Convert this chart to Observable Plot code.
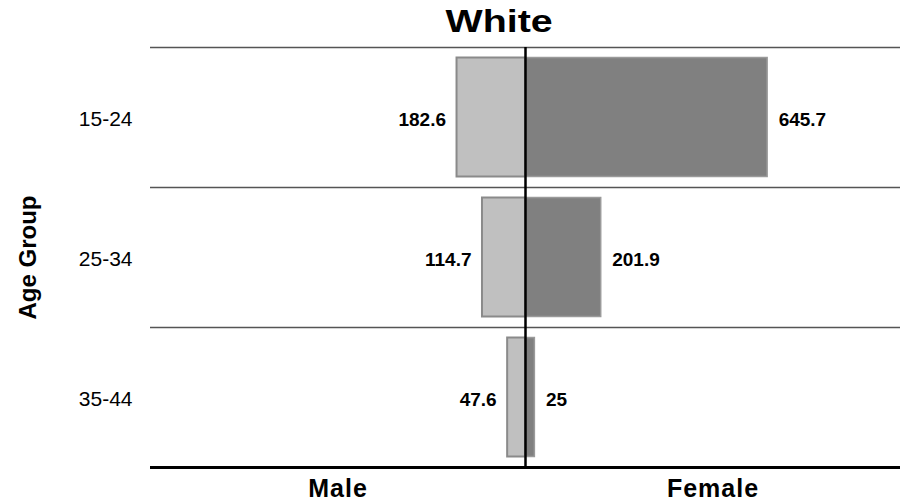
<!DOCTYPE html>
<html><head><meta charset="utf-8">
<script src="https://cdn.jsdelivr.net/npm/d3@7"></script>
<script src="https://cdn.jsdelivr.net/npm/@observablehq/plot@0.6"></script>
<style>
body{margin:0;background:#fff;font-family:"Liberation Sans",Arial,sans-serif;}
#title{width:917px;height:44px;box-sizing:border-box;padding-top:7px;padding-left:82px;text-align:center;line-height:30px;font-size:31px;font-weight:bold;color:#000;}
#title span{display:inline-block;transform:scaleX(1.27);}
</style></head><body>
<div id="title"><span>White</span></div>
<div id="chart"></div>
<script>
const ageGroups = ["15-24", "25-34", "35-44"];
const maleValues = [182.6, 114.7, 47.6];
const femaleValues = [645.7, 201.9, 25];
const sideLabels = ["Male", "Female"];
const yTitle = "Age Group";
const chartTitle = "White";

const W = 917, H = 459, mt = 3, mb = 36, ml = 150, mr = 17;
const xMax = 1000;
const step = (H - mt - mb) / ageGroups.length;

const male = ageGroups.map((a, i) => ({age: a, v: maleValues[i], x: -maleValues[i]}));
const female = ageGroups.map((a, i) => ({age: a, v: femaleValues[i], x: femaleValues[i]}));

const chart = Plot.plot({
  width: W, height: H,
  marginTop: mt, marginBottom: mb, marginLeft: ml, marginRight: mr,
  style: {fontFamily: "Liberation Sans, Arial, sans-serif", background: "white", color: "black"},
  x: {domain: [-xMax, xMax]},
  y: {domain: ageGroups, padding: 0},
  marks: [
    Plot.ruleY(ageGroups, {y: d => d, dy: -step / 2, stroke: "#555", strokeWidth: 1.5}),
    Plot.barX(male, {y: "age", x1: 0, x2: "x", fill: "#c0c0c0", stroke: "#8a8a8a", strokeWidth: 2, insetTop: 10.5, insetBottom: 10.5}),
    Plot.barX(female, {y: "age", x1: 0, x2: "x", fill: "#808080", stroke: "#9a9a9a", strokeWidth: 1.5, insetTop: 10.5, insetBottom: 10.5}),
    Plot.ruleX([0], {stroke: "black", strokeWidth: 2.5}),
    Plot.ruleY([ageGroups[ageGroups.length - 1]], {y: d => d, dy: step / 2, stroke: "black", strokeWidth: 3}),
    Plot.text(male, {y: "age", x: "x", text: d => String(d.v), textAnchor: "end", dx: -11, dy: 2, fontSize: 19, fontWeight: "bold", fill: "black", ariaLabel: "male values"}),
    Plot.text(female, {y: "age", x: "x", text: d => String(d.v), textAnchor: "start", dx: 11, dy: 2, fontSize: 19, fontWeight: "bold", fill: "black", ariaLabel: "female values"}),
    Plot.axisY({tickSize: 0, tickPadding: 18, fontSize: 21, dy: 2, label: null}),
    Plot.axisX({ticks: [-xMax / 2, xMax / 2], tickFormat: d => d < 0 ? sideLabels[0] : sideLabels[1], tickSize: 0, tickPadding: 12, fontSize: 25, fontWeight: "bold", label: null}),
    Plot.text([yTitle], {frameAnchor: "left", rotate: -90, dx: -132, lineAnchor: "top", textAnchor: "middle", fontSize: 24, fontWeight: "bold", fill: "black", ariaLabel: "y title"})
  ]
});
document.getElementById("chart").append(chart);
const s = d3.select(chart);
s.selectAll('g[aria-label="male values"] text, g[aria-label="female values"] text').style("letter-spacing", "0.8px");
s.selectAll('g[aria-label="x-axis tick label"] text').style("letter-spacing", "1px");
s.selectAll('g[aria-label="y title"] text').style("letter-spacing", "2.5px");
</script>
</body></html>
